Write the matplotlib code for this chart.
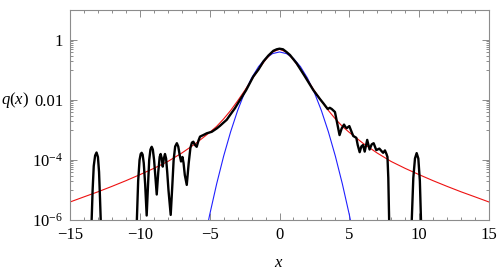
import numpy as np
import matplotlib.pyplot as plt
from matplotlib.ticker import FixedLocator, NullFormatter

plt.rcParams['font.family'] = ['Liberation Serif', 'DejaVu Serif']
plt.rcParams['mathtext.fontset'] = 'custom'
plt.rcParams['mathtext.rm'] = 'Liberation Serif'
plt.rcParams['mathtext.it'] = 'Liberation Serif:italic'

# Gaussian (blue)
x_gauss = [-6, -5.5, -5, -4.5, -4, -3.5, -3, -2.5, -2, -1.5, -1, -0.5, 0,
           0.5, 1, 1.5, 2, 2.5, 3, 3.5, 4, 4.5, 5, 5.5, 6]
q_gauss = [6.1e-9, 1.08e-7, 1.49e-6, 1.6e-5, 1.34e-4, 8.7e-4, 4.43e-3, 0.0175,
           0.054, 0.1295, 0.242, 0.352, 0.399, 0.352, 0.242, 0.1295, 0.054,
           0.0175, 4.43e-3, 8.7e-4, 1.34e-4, 1.6e-5, 1.49e-6, 1.08e-7, 6.1e-9]

# fat-tailed fit (red)
x_fit = [-15, -14, -13, -12, -11, -10, -9, -8, -7, -6, -5, -4.5, -4, -3.5, -3,
         -2.5, -2, -1.5, -1, -0.5, 0, 0.5, 1, 1.5, 2, 2.5, 3, 3.5, 4, 4.5, 5,
         6, 7, 8, 9, 10, 11, 12, 13, 14, 15]
q_fit = [3.98e-6, 5.9e-6, 8.7e-6, 1.32e-5, 2.04e-5, 3.24e-5, 5.25e-5, 8.9e-5,
         1.70e-4, 3.55e-4, 8.3e-4, 1.32e-3, 2.34e-3, 4.47e-3, 9.33e-3, 0.0204,
         0.0468, 0.105, 0.219, 0.398, 0.49, 0.398, 0.219, 0.105, 0.0468,
         0.0204, 9.33e-3, 4.47e-3, 2.34e-3, 1.32e-3, 8.3e-4, 3.55e-4, 1.70e-4,
         8.9e-5, 5.25e-5, 3.24e-5, 2.04e-5, 1.32e-5, 8.7e-6, 5.9e-6, 3.98e-6]

# empirical density (black), given as log10 values
x_data = [-13.6, -13.45, -13.38, -13.3, -13.2, -13.1, -13.0, -12.92, -12.85,
          -12.8, -12.7,
          -10.4, -10.22, -10.12, -10.02, -9.94, -9.87, -9.8, -9.72, -9.62,
          -9.51, -9.42, -9.33, -9.24, -9.15, -9.07, -8.98, -8.88, -8.79, -8.68,
          -8.58, -8.51, -8.43, -8.36, -8.28, -8.2, -8.12, -8.04, -7.95, -7.79,
          -7.68, -7.58, -7.47, -7.35, -7.25, -7.14, -7.05, -6.95, -6.87, -6.78,
          -6.64, -6.5, -6.38, -6.27, -6.17, -6.05, -5.93, -5.8, -5.69,
          -5.46, -5.21, -4.85, -4.5, -4.26, -4.0, -3.78, -3.54, -3.2, -2.83,
          -2.4, -1.88, -1.5, -1.16, -0.8, -0.44, -0.2, 0.0, 0.25, 0.5, 0.75,
          1.23, 1.8, 2.42, 2.9, 3.14, 3.45, 3.6, 3.74, 3.97, 4.12, 4.3, 4.45,
          4.62, 4.72, 4.81, 5.0, 5.15, 5.28, 5.5, 5.6, 5.74, 5.86, 5.98, 6.1,
          6.28, 6.45, 6.6, 6.74, 6.93, 7.15, 7.3, 7.42, 7.55, 7.66, 7.73,
          7.79, 7.85, 7.92,
          9.35, 9.47, 9.58, 9.7, 9.82, 9.94, 10.05, 10.13, 10.25]
logq_data = [-8, -6.0, -5.0, -4.2, -3.85, -3.75, -3.9, -4.4, -5.3, -6.0, -8,
             -8, -6.1, -4.7, -4.0, -3.8, -3.76, -3.82, -4.1, -4.8,
             -5.85, -4.9, -4.0, -3.65, -3.56, -3.65, -4.0, -4.6, -5.15, -4.4,
             -3.9, -3.8, -3.95, -4.22, -3.95, -3.8, -3.95, -4.4, -5.0, -5.83,
             -4.9, -4.0, -3.55, -3.44, -3.55, -3.85, -4.05, -3.9, -4.1, -4.5,
             -4.83, -4.1, -3.6, -3.42, -3.39, -3.5, -3.56, -3.35, -3.22,
             -3.17, -3.11, -3.06, -2.95, -2.86, -2.75, -2.66, -2.5, -2.28,
             -2.0, -1.68, -1.22, -0.98, -0.72, -0.52, -0.36, -0.31, -0.29,
             -0.31, -0.4, -0.5, -0.78, -1.2, -1.67, -1.97, -2.11, -2.3, -2.26,
             -2.3, -2.4, -2.75, -3.17, -2.95, -2.82, -2.9, -2.94, -2.87, -3.05,
             -3.2, -3.26, -3.5, -3.74, -3.55, -3.5, -3.72, -3.33, -3.65, -3.48,
             -3.44, -3.67, -3.62, -3.7, -3.76, -3.68, -3.8, -3.9, -4.6, -6.0,
             -8,
             -8, -6.0, -4.6, -3.95, -3.77, -3.95, -4.7, -6.0, -8]

fig = plt.figure(figsize=(4.99, 2.72), dpi=100)
ax = fig.add_axes([70/499, 52/272, 419/499, 210/272])

ax.plot(x_gauss, q_gauss, color='#2020ff', lw=0.8)
ax.plot(x_fit, q_fit, color='#ee1111', lw=0.8)
ax.plot(x_data, 10**np.array(logq_data), color='black', lw=1.7)

ax.set_yscale('log')
ax.set_xlim(-15, 15)
ax.set_ylim(1e-6, 10)

ax.set_xticks(range(-15, 16, 5))
ax.set_xticks(range(-15, 16), minor=True)
ax.set_xticklabels(['\u221215', '\u221210', '\u22125', '0', '5', '10', '15'])

ax.yaxis.set_major_locator(FixedLocator([1e-6, 1e-4, 1e-2, 1]))
minor = [k * 10.0**(n - 1) for n in (0, -2, -4) for k in range(1, 10)]
ax.yaxis.set_minor_locator(FixedLocator(minor))
ax.yaxis.set_minor_formatter(NullFormatter())
ax.set_yticklabels([r'$10^{-6}$', r'$10^{-4}$', '0.01', '1'])

frame = '#8c8c8c'
for s in ax.spines.values():
    s.set_color(frame)
    s.set_linewidth(0.8)
ax.tick_params(which='both', direction='in', top=True, right=True,
               color=frame, labelsize=12, width=0.7)
ax.tick_params(which='major', length=5, pad=5)
ax.tick_params(which='minor', length=2.5)

fig.text(279/499, 1 - 263/272, r'$x$', ha='center', va='center', fontsize=12)
fig.text(1/499, 1 - 100/272, r'$q(x)$', ha='left', va='center', fontsize=12)

fig.savefig('out.png', dpi=100)
